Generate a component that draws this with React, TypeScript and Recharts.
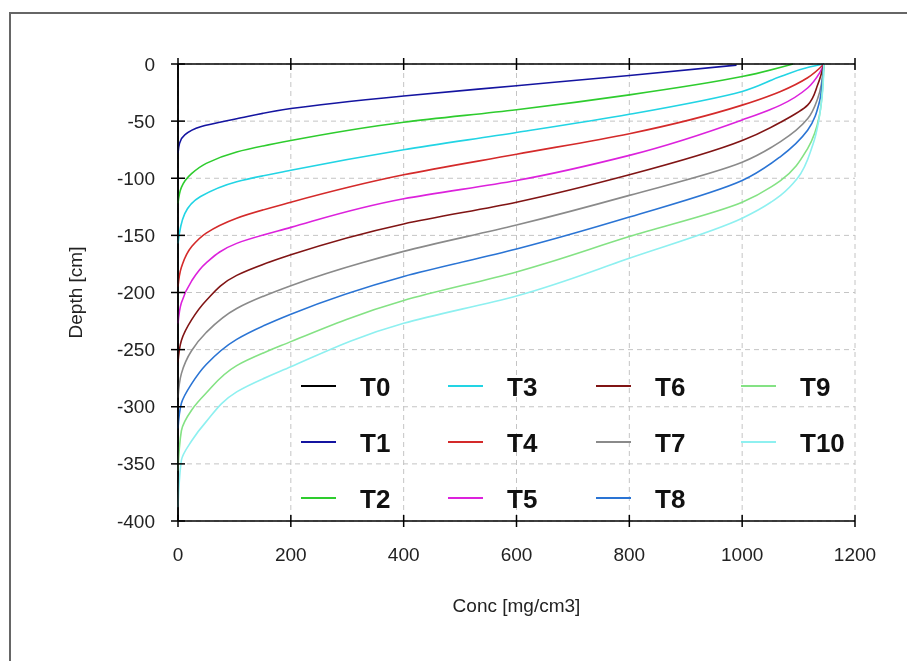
import { LineChart, Line, XAxis, YAxis, CartesianGrid, Legend } from "recharts"

// depth profiles, [conc mg/cm3, depth cm]
const T0 = [[0, 0], [0, -400]]
const T1 = [[0, -78], [3, -69], [12, -62], [40, -55], [104, -48], [200, -39], [400, -28], [600, -19], [800, -10], [990, -1]]
const T2 = [[0, -122], [6, -108], [24, -96], [50, -87], [104, -77], [200, -67], [400, -51], [600, -40], [800, -27], [1000, -11], [1090, 0]]
const T3 = [[0, -157], [12, -131], [40, -116], [104, -103], [200, -93], [400, -75], [600, -60], [800, -44], [1000, -24], [1068, -11], [1116, -3], [1145, 0]]
const T4 = [[0, -195], [6, -178], [24, -160], [50, -148], [104, -135], [200, -121], [400, -97], [600, -79], [800, -61], [1000, -36], [1068, -24], [1116, -12], [1145, 0]]
const T5 = [[0, -227], [6, -209], [24, -190], [50, -174], [104, -157], [200, -143], [400, -118], [600, -102], [800, -80], [1000, -49], [1068, -36], [1116, -21], [1137, -8], [1145, 0]]
const T6 = [[0, -261], [6, -242], [24, -224], [50, -207], [104, -185], [200, -167], [400, -140], [600, -121], [800, -97], [1000, -67], [1068, -51], [1116, -36], [1134, -18], [1145, 0]]
const T7 = [[0, -292], [6, -271], [24, -251], [50, -235], [104, -214], [200, -194], [400, -164], [600, -141], [800, -115], [1000, -86], [1068, -68], [1116, -48], [1134, -30], [1145, 0]]
const T8 = [[0, -319], [6, -297], [24, -280], [50, -263], [104, -241], [200, -219], [400, -186], [600, -162], [800, -134], [1000, -102], [1068, -81], [1116, -58], [1137, -33], [1142, -15], [1145, 0]]
const T9 = [[0, -356], [6, -321], [24, -303], [50, -288], [104, -264], [200, -243], [400, -207], [600, -182], [800, -151], [1000, -121], [1068, -102], [1116, -74], [1137, -45], [1144, -10], [1145, 0]]
const T10 = [[0, -388], [6, -347], [24, -330], [50, -313], [104, -287], [200, -265], [400, -227], [600, -203], [800, -170], [1000, -135], [1068, -115], [1098, -100], [1125, -71], [1142, -27], [1145, 0]]

const names = ["T0", "T1", "T2", "T3", "T4", "T5", "T6", "T7", "T8", "T9", "T10"]
const colors = ["#000000", "#1414a0", "#2ecc2e", "#22d4e4", "#d42a2a", "#dc22dc", "#801414", "#8a8a8a", "#2a74d4", "#84e284", "#8ef0f0"]
const profiles = [T0, T1, T2, T3, T4, T5, T6, T7, T8, T9, T10]

const xTicks = [0, 200, 400, 600, 800, 1000, 1200]
const yTicks = [0, -50, -100, -150, -200, -250, -300, -350, -400]

const FONT = "'Liberation Sans', Arial, sans-serif"

const series = profiles.map((p, i) => ({
  name: names[i],
  color: colors[i],
  data: p.map(([conc, depth]) => ({ conc, depth })),
}))

const BottomTick = ({ x, y, payload }: any) => (
  <g>
    <line x1={x} x2={x} y1={y - 6} y2={y + 6} stroke="#000" strokeWidth={1.5} />
    <text x={x} y={y + 33} textAnchor="middle" dominantBaseline="central" fontSize={19} fontFamily={FONT} fill="#222">
      {payload.value}
    </text>
  </g>
)

const TopTick = ({ x, y }: any) => (
  <g>
    <line x1={x} x2={x} y1={y - 6} y2={y + 6} stroke="#000" strokeWidth={1.5} />
  </g>
)

const LeftTick = ({ x, y, payload }: any) => (
  <g>
    <line x1={x - 7} x2={x + 7} y1={y} y2={y} stroke="#000" strokeWidth={1.5} />
    <text x={x - 23} y={y} textAnchor="end" dominantBaseline="central" fontSize={19} fontFamily={FONT} fill="#222">
      {payload.value}
    </text>
  </g>
)

// 3 rows, filled column by column
const renderLegend = () => {
  const colX = [11, 158, 306, 451]
  const rowY = [26, 82, 138]
  return (
    <svg width={580} height={170} style={{ display: "block" }}>
      {series.map((s, i) => {
        const cx = colX[Math.floor(i / 3)]
        const cy = rowY[i % 3]
        return (
          <g key={s.name}>
            <line x1={cx} x2={cx + 35} y1={cy} y2={cy} stroke={s.color} strokeWidth={2} />
            <text x={cx + 59} y={cy + 1} dominantBaseline="central" fontSize={26} fontWeight="bold" fontFamily={FONT} fill="#111">
              {s.name}
            </text>
          </g>
        )
      })}
    </svg>
  )
}

export default function App() {
  return (
    <div style={{ position: "relative", width: 891, height: 640 }}>
      <div
        style={{
          position: "fixed",
          left: 9,
          top: 12,
          width: 1000,
          height: 1000,
          borderTop: "2px solid #666",
          borderLeft: "2px solid #666",
        }}
      />
      <div style={{ position: "absolute", left: 0, top: 0 }}>
        <LineChart width={891} height={640} margin={{ top: 46, right: 44, bottom: 67, left: 0 }}>
          <CartesianGrid xAxisId="bottom" stroke="#c4c4c4" strokeDasharray="5 4" />
          <XAxis
            xAxisId="bottom"
            type="number"
            dataKey="conc"
            domain={[0, 1200]}
            ticks={xTicks}
            interval={0}
            height={60}
            tickSize={0}
            tickMargin={0}
            tickLine={false}
            axisLine={{ stroke: "#000", strokeWidth: 1.5 }}
            tick={<BottomTick />}
            label={{
              content: ({ viewBox }: any) => (
                <text x={viewBox.x + viewBox.width / 2} y={viewBox.y + 84} textAnchor="middle" dominantBaseline="central" fontSize={19} fontFamily={FONT} fill="#222">
                  Conc [mg/cm3]
                </text>
              ),
            }}
          />
          <XAxis
            xAxisId="top"
            orientation="top"
            type="number"
            dataKey="conc"
            domain={[0, 1200]}
            ticks={xTicks}
            interval={0}
            height={10}
            tickSize={0}
            tickMargin={0}
            tickLine={false}
            axisLine={{ stroke: "#000", strokeWidth: 1.5 }}
            tick={<TopTick />}
          />
          <YAxis
            type="number"
            dataKey="depth"
            domain={[-400, 0]}
            ticks={yTicks}
            interval={0}
            width={170}
            tickSize={0}
            tickMargin={0}
            tickLine={false}
            axisLine={{ stroke: "#000", strokeWidth: 1.5 }}
            tick={<LeftTick />}
            label={{
              content: ({ viewBox }: any) => (
                <text
                  x={67}
                  y={viewBox.y + viewBox.height / 2}
                  textAnchor="middle"
                  dominantBaseline="central"
                  fontSize={19}
                  fontFamily={FONT}
                  fill="#222"
                  transform={`rotate(-90 67 ${viewBox.y + viewBox.height / 2})`}
                >
                  Depth [cm]
                </text>
              ),
            }}
          />
          {series.map((s, i) => (
            <Line
              key={s.name}
              xAxisId={i === 0 ? "top" : "bottom"}
              data={s.data}
              dataKey="depth"
              name={s.name}
              type="monotoneY"
              stroke={s.color}
              strokeWidth={1.6}
              dot={false}
              activeDot={false}
              isAnimationActive={false}
            />
          ))}
          <Legend
            layout="horizontal"
            verticalAlign="middle"
            align="center"
            content={renderLegend}
            wrapperStyle={{ left: 282, top: 352, width: 580, height: 170 }}
          />
        </LineChart>
      </div>
    </div>
  )
}
